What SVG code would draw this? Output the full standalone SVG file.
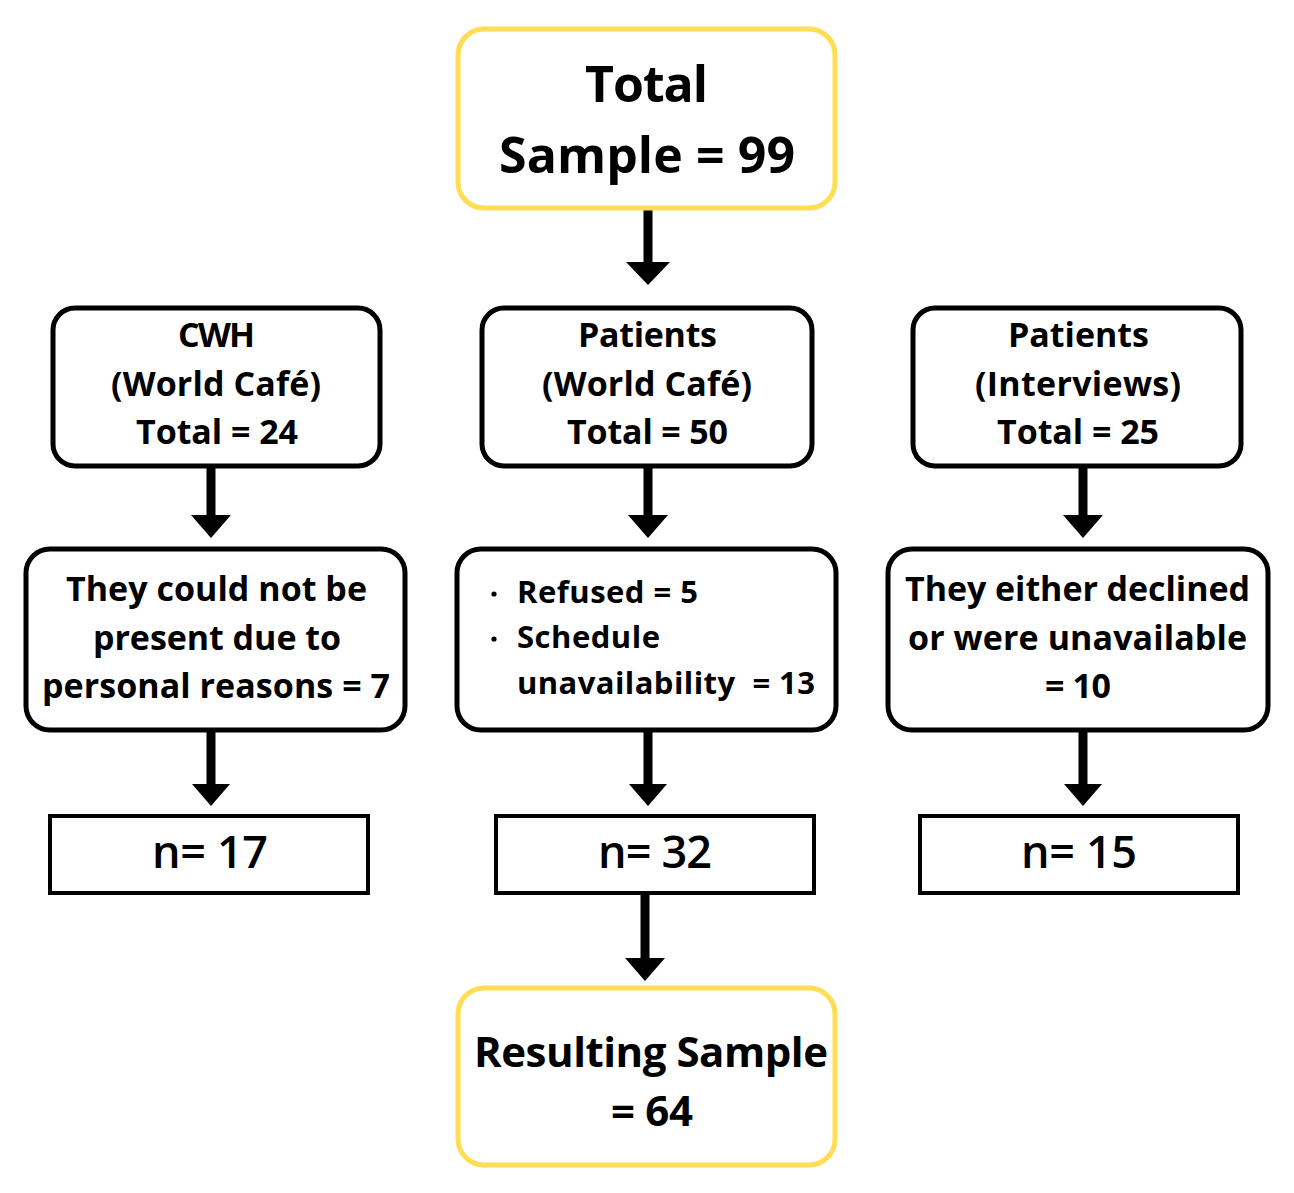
<svg xmlns="http://www.w3.org/2000/svg" width="1294" height="1193" viewBox="0 0 1294 1193">
<style>
text{font-family:"Open Sans","Noto Sans",sans-serif;font-weight:700;fill:#000;text-anchor:middle}
.y{fill:#fff;stroke:#FFDD55;stroke-width:5}
.b{fill:#fff;stroke:#000;stroke-width:5}
.n{fill:#fff;stroke:#000;stroke-width:4}
.t48{font-size:50px}
.t32{font-size:34px}
.t30{font-size:31px;text-anchor:start}
.t44{font-size:45px;font-weight:600}
.t40{font-size:42px}
.sh{stroke:#000;stroke-width:9;fill:none}
</style>
<g id="connectors">
<line class="sh" x1="648" y1="210" x2="648" y2="262"/><path d="M626,262 L670,262 L648,285 Z"/>
<line class="sh" x1="211" y1="466" x2="211" y2="515"/><path d="M191,515 L231,515 L211,538 Z"/>
<line class="sh" x1="648" y1="466" x2="648" y2="515"/><path d="M628,515 L668,515 L648,538 Z"/>
<line class="sh" x1="1083" y1="466" x2="1083" y2="515"/><path d="M1063,515 L1103,515 L1083,538 Z"/>
<line class="sh" x1="211" y1="730" x2="211" y2="784"/><path d="M192,784 L230,784 L211,806 Z"/>
<line class="sh" x1="648" y1="730" x2="648" y2="784"/><path d="M629,784 L667,784 L648,806 Z"/>
<line class="sh" x1="1083" y1="730" x2="1083" y2="784"/><path d="M1064,784 L1102,784 L1083,806 Z"/>
<line class="sh" x1="645" y1="893" x2="645" y2="958"/><path d="M625,958 L665,958 L645,981 Z"/>
</g>
<g id="total">
<rect class="y" x="458" y="29" width="377" height="179" rx="26"/>
<text class="t48" x="646.5" y="102" textLength="123" lengthAdjust="spacing">Total</text>
<text class="t48" x="647" y="173" textLength="296" lengthAdjust="spacing">Sample = 99</text>
</g>
<g id="cwh">
<rect class="b" x="53" y="308" width="327" height="158" rx="22"/>
<text class="t32" x="216.5" y="347" textLength="77" lengthAdjust="spacing">CWH</text>
<text class="t32" x="216" y="396" textLength="210" lengthAdjust="spacing">(World Café)</text>
<text class="t32" x="217" y="444" textLength="162" lengthAdjust="spacing">Total = 24</text>
</g>
<g id="patients-wc">
<rect class="b" x="482" y="308" width="330" height="158" rx="22"/>
<text class="t32" x="647.5" y="347" textLength="139" lengthAdjust="spacing">Patients</text>
<text class="t32" x="647" y="396" textLength="210" lengthAdjust="spacing">(World Café)</text>
<text class="t32" x="647.5" y="444" textLength="161" lengthAdjust="spacing">Total = 50</text>
</g>
<g id="patients-int">
<rect class="b" x="913" y="308" width="328" height="158" rx="22"/>
<text class="t32" x="1078.5" y="347" textLength="141" lengthAdjust="spacing">Patients</text>
<text class="t32" x="1078" y="396" textLength="206" lengthAdjust="spacing">(Interviews)</text>
<text class="t32" x="1078" y="444" textLength="162" lengthAdjust="spacing">Total = 25</text>
</g>
<g id="cwh-excl">
<rect class="b" x="26" y="549" width="379" height="181" rx="24"/>
<text class="t32" x="216.5" y="601" textLength="301" lengthAdjust="spacing">They could not be</text>
<text class="t32" x="217" y="650" textLength="248" lengthAdjust="spacing">present due to</text>
<text class="t32" x="216" y="698" textLength="348" lengthAdjust="spacing">personal reasons = 7</text>
</g>
<g id="wc-excl">
<rect class="b" x="457" y="549" width="379" height="181" rx="24"/>
<circle cx="494" cy="594" r="2.6"/>
<circle cx="494" cy="639" r="2.6"/>
<text class="t30" x="517" y="603" textLength="181" lengthAdjust="spacing">Refused = 5</text>
<text class="t30" x="517" y="648" textLength="143" lengthAdjust="spacing">Schedule</text>
<text class="t30" x="517" y="694" textLength="298" lengthAdjust="spacing" xml:space="preserve">unavailability  = 13</text>
</g>
<g id="int-excl">
<rect class="b" x="888" y="549" width="380" height="181" rx="24"/>
<text class="t32" x="1077.5" y="601" textLength="345" lengthAdjust="spacing">They either declined</text>
<text class="t32" x="1077.5" y="650" textLength="339" lengthAdjust="spacing">or were unavailable</text>
<text class="t32" x="1078" y="698" textLength="66" lengthAdjust="spacing">= 10</text>
</g>
<g id="n17">
<rect class="n" x="50" y="816" width="318" height="77"/>
<text class="t44" x="210" y="868" textLength="116" lengthAdjust="spacing">n= 17</text>
</g>
<g id="n32">
<rect class="n" x="496" y="816" width="318" height="77"/>
<text class="t44" x="655" y="868" textLength="114" lengthAdjust="spacing">n= 32</text>
</g>
<g id="n15">
<rect class="n" x="920" y="816" width="318" height="77"/>
<text class="t44" x="1079" y="868" textLength="116" lengthAdjust="spacing">n= 15</text>
</g>
<g id="result">
<rect class="y" x="458" y="988" width="377" height="177" rx="26"/>
<text class="t40" x="651" y="1067" textLength="354" lengthAdjust="spacing">Resulting Sample</text>
<text class="t40" x="652" y="1126" textLength="82" lengthAdjust="spacing">= 64</text>
</g>
</svg>
